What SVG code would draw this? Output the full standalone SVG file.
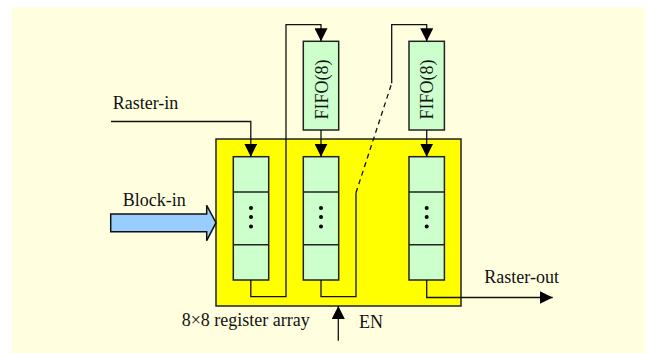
<svg xmlns="http://www.w3.org/2000/svg" width="649" height="353" viewBox="0 0 649 353">
<defs>
<style>
.reg{fill:#CCFFCC;stroke:#222;stroke-width:1.5}
.w{fill:none;stroke:#111;stroke-width:1.3}
.t{font-family:"Liberation Serif","Times New Roman",serif;font-size:18px;fill:#111}
.dot{fill:#000}
</style>
<marker id="ah" viewBox="0 0 10 10" refX="10" refY="5" markerWidth="13" markerHeight="13" markerUnits="userSpaceOnUse" orient="auto">
<path d="M0,0 L10,5 L0,10 z" fill="#000"/>
</marker>
</defs>
<rect x="12" y="7" width="633" height="346" fill="#FFFFE0"/>
<g id="array">
<rect x="216" y="139" width="245" height="167" fill="#FFFF00" stroke="#222" stroke-width="1.5"/>
</g>
<g id="col1">
<rect class="reg" x="233.3" y="156.7" width="35.4" height="123.3"/>
<line x1="233.3" y1="192" x2="268.7" y2="192" stroke="#222" stroke-width="1.5"/>
<line x1="233.3" y1="244.7" x2="268.7" y2="244.7" stroke="#222" stroke-width="1.5"/>
<circle class="dot" cx="251" cy="208" r="2"/><circle class="dot" cx="251" cy="217" r="2"/><circle class="dot" cx="251" cy="226.5" r="2"/>
</g>
<g id="col2">
<rect class="reg" x="303.3" y="156.7" width="35.4" height="123.3"/>
<line x1="303.3" y1="192" x2="338.7" y2="192" stroke="#222" stroke-width="1.5"/>
<line x1="303.3" y1="244.7" x2="338.7" y2="244.7" stroke="#222" stroke-width="1.5"/>
<circle class="dot" cx="321" cy="208" r="2"/><circle class="dot" cx="321" cy="217" r="2"/><circle class="dot" cx="321" cy="226.5" r="2"/>
</g>
<g id="col3">
<rect class="reg" x="409" y="156.7" width="35.4" height="123.3"/>
<line x1="409" y1="192" x2="444.4" y2="192" stroke="#222" stroke-width="1.5"/>
<line x1="409" y1="244.7" x2="444.4" y2="244.7" stroke="#222" stroke-width="1.5"/>
<circle class="dot" cx="426.7" cy="208" r="2"/><circle class="dot" cx="426.7" cy="217" r="2"/><circle class="dot" cx="426.7" cy="226.5" r="2"/>
</g>
<g id="fifo1">
<rect class="reg" x="303.3" y="41.3" width="35.4" height="88.7"/>
<text class="t" transform="translate(327.5,89.5) rotate(-90)" text-anchor="middle">FIFO(8)</text>
</g>
<g id="fifo2">
<rect class="reg" x="409" y="41.3" width="35.4" height="88.7"/>
<text class="t" transform="translate(433.2,89.5) rotate(-90)" text-anchor="middle">FIFO(8)</text>
</g>
<g id="blockin">
<path d="M110.7,214 L206.7,214 L206.7,205.3 L216,222.7 L206.7,240.7 L206.7,231.7 L110.7,231.7 z" fill="#99CCFF" stroke="#111" stroke-width="1.5"/>
<text class="t" x="122.7" y="206">Block-in</text>
</g>
<g id="labels">
<text class="t" x="112.7" y="109">Raster-in</text>
<text class="t" x="484.3" y="283.3">Raster-out</text>
<text class="t" x="181.7" y="326">8×8 register array</text>
<text class="t" x="359" y="328">EN</text>
</g>
<g id="connectors">
<path class="w" d="M111,121.5 L250.8,121.5 L250.8,156.7" marker-end="url(#ah)"/>
<path class="w" d="M250.8,280 L250.8,296.7 L286,296.7 L286,24.7 L321,24.7 L321,41.3" marker-end="url(#ah)"/>
<path class="w" d="M321,130 L321,156.7" marker-end="url(#ah)"/>
<path class="w" d="M321,280 L321,296.7 L356,296.7 L356,192.7"/>
<path class="w" d="M356,192.7 L391.7,83.3" stroke-dasharray="5,4"/>
<path class="w" d="M391.7,83.3 L391.7,24.7 L426.7,24.7 L426.7,41.3" marker-end="url(#ah)"/>
<path class="w" d="M426.7,130 L426.7,156.7" marker-end="url(#ah)"/>
<path class="w" d="M426.7,280 L426.7,297.5 L552.7,297.5" marker-end="url(#ah)"/>
<path class="w" d="M338.3,340.7 L338.3,306" marker-end="url(#ah)"/>
</g>
</svg>
